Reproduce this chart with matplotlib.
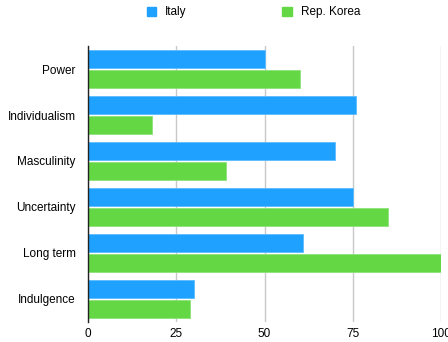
import numpy as np
import matplotlib.pyplot as plt
from matplotlib.patches import Patch

plt.rcParams['font.family'] = ['Liberation Sans', 'DejaVu Sans']

# ===== data =====
categories = ['Power', 'Individualism', 'Masculinity', 'Uncertainty', 'Long term', 'Indulgence']
italy = [50, 76, 70, 75, 61, 30]
korea = [60, 18, 39, 85, 100, 29]
xticks = [0, 25, 50, 75, 100]

c_it = '#1ea1ff'
c_kr = '#64d744'

fig = plt.figure(figsize=(4.48, 3.42), dpi=100)
ax = fig.add_axes([88/448, 1-322/342, (441-88)/448, (322-46)/342])

y = np.arange(len(categories))
h = 18/46
off = 10/46
ax.barh(y - off, italy, h, color=c_it, edgecolor='#5bbcff', linewidth=0.6, zorder=3)
ax.barh(y + off, korea, h, color=c_kr, edgecolor='#8ee37a', linewidth=0.6, zorder=3)

ax.set_ylim(len(categories) - 0.5, -0.5)
ax.set_xlim(0, 100)
ax.set_yticks(y)
ax.set_yticklabels(categories, fontsize=8.5)
ax.set_xticks(xticks)
ax.set_xticklabels([str(v) for v in xticks], fontsize=8.5)
ax.tick_params(axis='x', length=0, pad=4)
ax.tick_params(axis='y', length=0, pad=9)
ax.xaxis.grid(True, color='#c8c8c8', lw=1, zorder=0)
for s in ['top', 'right', 'bottom']:
    ax.spines[s].set_visible(False)
ax.spines['left'].set_color('#222222')
ax.spines['left'].set_linewidth(1)
ax.spines['left'].set_zorder(4)

handles = [Patch(color=c_it, label='Italy'), Patch(color=c_kr, label='Rep. Korea')]
fig.legend(handles=handles, loc='center left', bbox_to_anchor=(147/448, 1-12.5/342), ncol=2,
           frameon=False, fontsize=8.5, handlelength=0.8, handleheight=0.8,
           columnspacing=8.1, handletextpad=0.75, borderpad=0, borderaxespad=0)

plt.savefig('out.png', dpi=100)
plt.close()
